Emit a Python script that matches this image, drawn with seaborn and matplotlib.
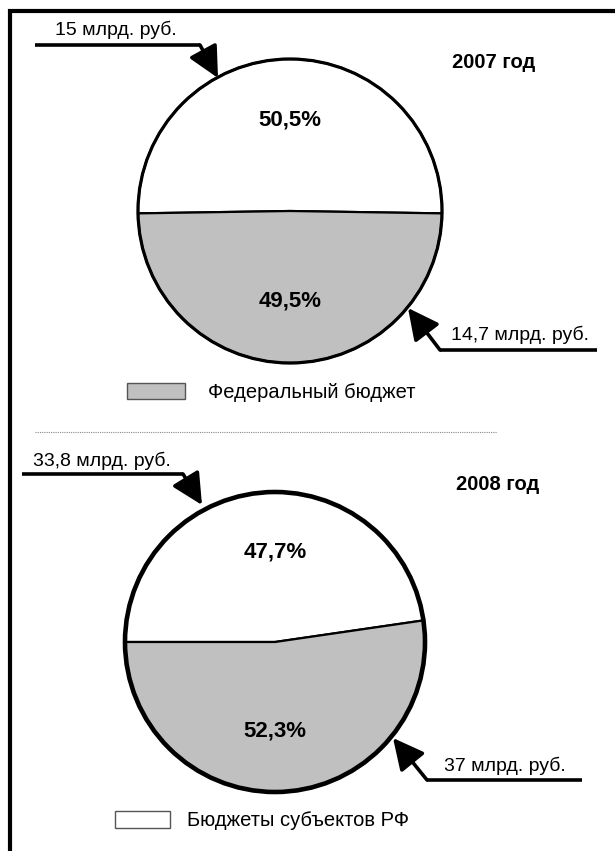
import matplotlib
matplotlib.use("Agg")
import matplotlib.pyplot as plt
from matplotlib.patches import Circle, Rectangle
import seaborn as sns

# --- data -----------------------------------------------------------------
years = ["2007 год", "2008 год"]
regional_share = [50.5, 47.7]      # Бюджеты субъектов РФ (white)
federal_share = [49.5, 52.3]       # Федеральный бюджет (grey)
regional_amount = ["15 млрд. руб.", "33,8 млрд. руб."]
federal_amount = ["14,7 млрд. руб.", "37 млрд. руб."]
legend_labels = ["Федеральный бюджет", "Бюджеты субъектов РФ"]

GREY = "#c0c0c0"
W, H = 615, 851

sns.set_theme(style="white")
plt.rcParams["font.family"] = ["Liberation Sans", "DejaVu Sans"]
plt.rcParams["text.color"] = "black"


def Y(y):
    # layout is measured in pixels from the top
    return H - y


def pct(p):
    return f"{p:.1f}%".replace(".", ",")


def callout(ax, text, text_xy, line_start, knee, tip):
    ax.text(text_xy[0], Y(text_xy[1]), text, fontsize=14, ha="center", va="center")
    ax.plot([line_start[0], knee[0]], [Y(line_start[1]), Y(knee[1])],
            color="black", lw=2.6, solid_capstyle="butt")
    ax.annotate("", xy=(tip[0], Y(tip[1])), xytext=(knee[0], Y(knee[1])),
                arrowprops=dict(arrowstyle="-|>,head_length=1.0,head_width=0.5",
                                mutation_scale=19, lw=2.6, color="black",
                                shrinkA=0, shrinkB=0))


fig = plt.figure(figsize=(W / 100, H / 100), dpi=100)
ax = fig.add_axes([0, 0, 1, 1])

# pie layout (pixels)
centers = [(290, 211), (275, 642)]
radii = [152, 150]
edge_lw = [2.3, 3.3]
starts = [90 - 360 * regional_share[0] / 200, 180 - 360 * regional_share[1] / 100]
title_xy = [(494, 62), (498, 484)]

for i in range(2):
    cx, cy = centers[i]
    r = radii[i]
    ax.pie([regional_share[i], federal_share[i]], colors=["white", GREY],
           startangle=starts[i], center=(cx, Y(cy)), radius=r,
           wedgeprops=dict(edgecolor="black", linewidth=1.6))
    ax.add_patch(Circle((cx, Y(cy)), r, fill=False, ec="black",
                        lw=edge_lw[i], zorder=5))
    # share labels, centred above / below the pie centre
    ax.text(cx, Y(cy) + 0.6 * r, pct(regional_share[i]), fontsize=16,
            fontweight="bold", ha="center", va="center")
    ax.text(cx, Y(cy) - 0.59 * r, pct(federal_share[i]), fontsize=16,
            fontweight="bold", ha="center", va="center")
    ax.text(title_xy[i][0], Y(title_xy[i][1]), years[i], fontsize=14.5,
            fontweight="bold", ha="center", va="center")

callout(ax, regional_amount[0], (116, 30), (35, 45), (200, 45), (218, 78))
callout(ax, federal_amount[0], (520, 335), (597, 350), (440, 350), (408, 308))
callout(ax, regional_amount[1], (102, 461), (22, 474), (183, 474), (202, 505))
callout(ax, federal_amount[1], (505, 766), (582, 780), (427, 780), (393, 738))

# legend entries
ax.add_patch(Rectangle((127, Y(399)), 58, 16, fc=GREY, ec="#555555", lw=1))
ax.text(208, Y(392), legend_labels[0], fontsize=14.5, ha="left", va="center")
ax.add_patch(Rectangle((115, Y(828)), 55, 17, fc="white", ec="#555555", lw=1))
ax.text(187, Y(820), legend_labels[1], fontsize=14.5, ha="left", va="center")

# separator and frame
ax.plot([35, 497], [Y(432), Y(432)], color="#888888", lw=0.8, ls=(0, (1, 1)))
ax.plot([9.5, 9.5, W], [0, Y(11), Y(11)], color="black", lw=3,
        solid_joinstyle="miter")

ax.set_xlim(0, W)
ax.set_ylim(0, H)
ax.set_aspect("auto")
ax.axis("off")

fig.savefig("out.png", dpi=100, facecolor="white")
